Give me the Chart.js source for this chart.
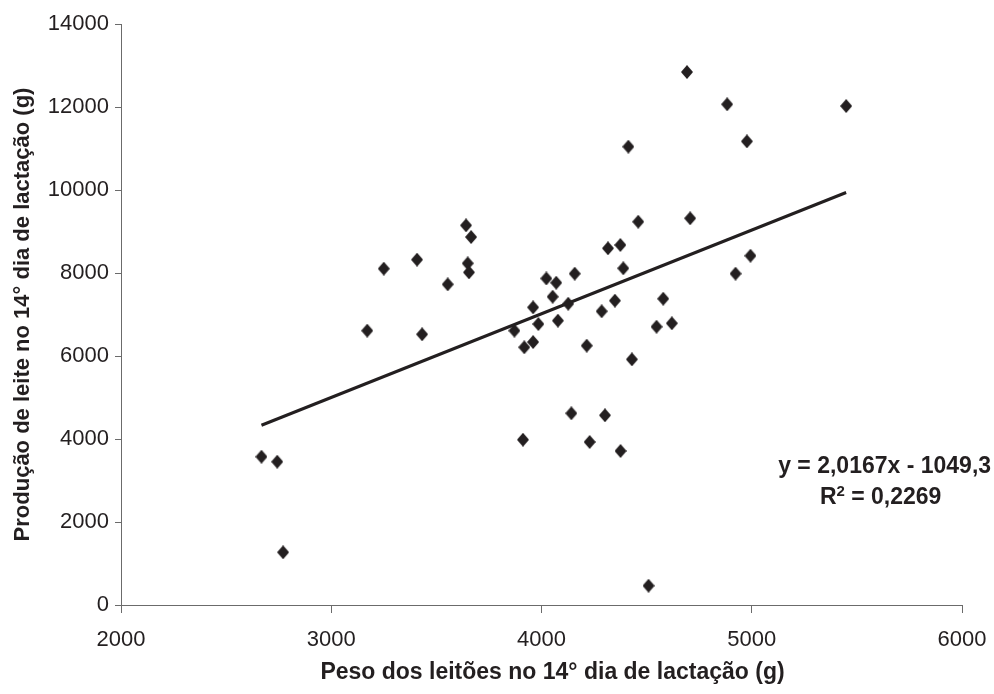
<!DOCTYPE html>
<html lang="pt">
<head>
  <meta charset="UTF-8">
  <title>Peso dos leitões x Produção de leite</title>
  <script src="https://cdn.jsdelivr.net/npm/chart.js"></script>
  <style>
    html, body {
      margin: 0;
      padding: 0;
      background: #fff;
    }
    #chartBox {
      width: 994px;
      height: 694px;
    }
  </style>
</head>
<body>
  <div id="chartBox">
    <canvas id="milkChart" width="994" height="694"></canvas>
  </div>

  <script>
    // peso dos leitões (g) no 14° dia
    const pesoLeitoes = [
      2668, 2743, 2771, 3171, 3250, 3408, 3432, 3554, 3641, 3649,
      3655, 3665, 3871, 3912, 3918, 3960, 3960, 3985, 4023, 4053,
      4070, 4078, 4127, 4142, 4158, 4215, 4229, 4286, 4302, 4316,
      4349, 4375, 4376, 4389, 4413, 4430, 4460, 4509, 4547, 4579,
      4620, 4692, 4707, 4883, 4923, 4977, 4994, 5449
    ];
    // produção de leite (g) no 14° dia
    const producaoLeite = [
      3573, 3453, 1270, 6610, 8104, 8321, 6523, 7727, 9149, 8233,
      8016, 8867, 6610, 3983, 6210, 6337, 7173, 6771, 7868, 7429,
      7766, 6851, 7260, 4619, 7984, 6249, 3928, 7077, 4571, 8595,
      7333, 8675, 3711, 8113, 11044, 5920, 9236, 465, 6706, 7381,
      6788, 12843, 9318, 12065, 7984, 11173, 8417, 12024
    ];

    // regressão linear mostrada no gráfico
    const slope = 2.0167;
    const intercept = -1049.3;
    const equationText = 'y = 2,0167x - 1049,3';
    const r2Text = ' = 0,2269';
    const xTitle = 'Peso dos leitões no 14° dia de lactação (g)';
    const yTitle = 'Produção de leite no 14° dia de lactação (g)';

    const xTicks = [2000, 3000, 4000, 5000, 6000];
    const yTicks = [0, 2000, 4000, 6000, 8000, 10000, 12000, 14000];

    const ink = '#231f20';
    const axisGrey = '#6b6b6b';
    const fontFamily = "'Liberation Sans', Arial, Helvetica, sans-serif";

    const points = pesoLeitoes.map((x, i) => ({ x: x, y: producaoLeite[i] }));
    const xMin = Math.min(...pesoLeitoes);
    const xMax = Math.max(...pesoLeitoes);
    const trend = [
      { x: xMin, y: slope * xMin + intercept },
      { x: xMax, y: slope * xMax + intercept }
    ];

    // losango um pouco mais alto que largo, como no original
    function diamond(w, h) {
      const c = document.createElement('canvas');
      c.width = w;
      c.height = h;
      const g = c.getContext('2d');
      g.fillStyle = ink;
      g.beginPath();
      g.moveTo(w / 2, 0);
      g.lineTo(w, h / 2);
      g.lineTo(w / 2, h);
      g.lineTo(0, h / 2);
      g.closePath();
      g.fill();
      return c;
    }

    // título do eixo x (um pouco à direita do centro) e texto da equação
    const textPlugin = {
      id: 'textos',
      afterDraw(chart) {
        const ctx = chart.ctx;
        const area = chart.chartArea;
        const xs = chart.scales.x;
        const ys = chart.scales.y;
        const big = 'bold 23px ' + fontFamily;
        const small = 'bold 15px ' + fontFamily;
        ctx.save();
        ctx.fillStyle = ink;
        ctx.textBaseline = 'middle';
        ctx.font = big;
        ctx.textAlign = 'center';
        ctx.fillText(xTitle, (area.left + area.right) / 2 + 11, chart.height - 21);

        ctx.fillText(equationText, xs.getPixelForValue(5632), ys.getPixelForValue(3332));

        // R² com o expoente em tamanho menor
        const cx = xs.getPixelForValue(5613);
        const cy = ys.getPixelForValue(2578);
        ctx.textAlign = 'left';
        const wR = ctx.measureText('R').width;
        const wRest = ctx.measureText(r2Text).width;
        ctx.font = small;
        const w2 = ctx.measureText('2').width;
        const x0 = cx - (wR + w2 + wRest) / 2;
        ctx.font = big;
        ctx.fillText('R', x0, cy);
        ctx.font = small;
        ctx.fillText('2', x0 + wR, cy - 6);
        ctx.font = big;
        ctx.fillText(r2Text, x0 + wR + w2, cy);
        ctx.restore();
      }
    };

    const ctx = document.getElementById('milkChart').getContext('2d');
    new Chart(ctx, {
      type: 'scatter',
      data: {
        datasets: [
          {
            label: 'Linear',
            data: trend,
            showLine: true,
            borderColor: ink,
            borderWidth: 3,
            pointRadius: 0,
            order: 0
          },
          {
            label: 'Produção de leite',
            data: points,
            pointStyle: diamond(12, 14),
            pointRadius: 6,
            backgroundColor: ink,
            borderColor: ink,
            order: 1
          }
        ]
      },
      plugins: [textPlugin],
      options: {
        responsive: false,
        animation: false,
        layout: {
          padding: { left: 0, right: 32, top: 24, bottom: 0 }
        },
        plugins: {
          legend: { display: false },
          tooltip: { enabled: false }
        },
        scales: {
          x: {
            type: 'linear',
            min: 2000,
            max: 6000,
            afterBuildTicks(scale) {
              scale.ticks = xTicks.map(v => ({ value: v }));
            },
            afterFit(scale) {
              scale.height = 89;
              scale.paddingLeft = 0;
              scale.paddingRight = 0;
            },
            grid: {
              display: true,
              drawOnChartArea: false,
              drawTicks: true,
              tickLength: 8,
              color: axisGrey
            },
            border: { display: true, color: axisGrey, width: 1 },
            ticks: {
              color: ink,
              padding: 14,
              maxRotation: 0,
              font: { family: fontFamily, size: 22 },
              callback: v => String(v)
            },
            title: { display: false }
          },
          y: {
            type: 'linear',
            min: 0,
            max: 14000,
            afterBuildTicks(scale) {
              scale.ticks = yTicks.map(v => ({ value: v }));
            },
            afterFit(scale) {
              scale.width = 121;
            },
            grid: {
              display: true,
              drawOnChartArea: false,
              drawTicks: true,
              tickLength: 6,
              color: axisGrey
            },
            border: { display: true, color: axisGrey, width: 1 },
            ticks: {
              color: ink,
              padding: 6,
              font: { family: fontFamily, size: 22 },
              callback: v => String(v)
            },
            title: {
              display: true,
              text: yTitle,
              color: ink,
              padding: { top: 10, bottom: 0 },
              font: { family: fontFamily, size: 22, weight: 'bold' }
            }
          }
        }
      }
    });
  </script>
</body>
</html>
